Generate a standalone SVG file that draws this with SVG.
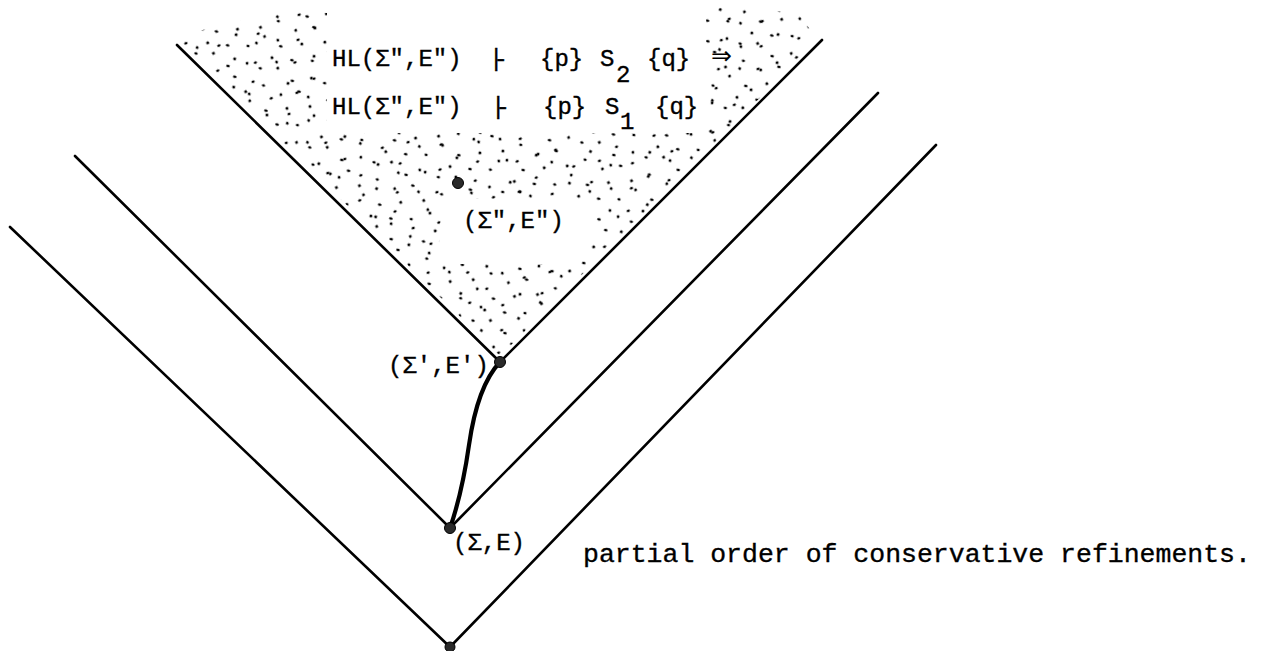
<svg xmlns="http://www.w3.org/2000/svg" width="1266" height="651" viewBox="0 0 1266 651">
<style>
.t{font-family:"Liberation Mono","DejaVu Sans Mono",monospace;font-size:24px;fill:#000;stroke:#000;stroke-width:0.35}
.b{font-family:"Liberation Mono","DejaVu Sans Mono",monospace;font-size:26.5px;fill:#000;stroke:#000;stroke-width:0.35}
.ar{font-family:"DejaVu Sans",sans-serif;font-size:25px;fill:#000}
.ln{stroke:#000;stroke-width:2.6;fill:none;stroke-linecap:round}
.pt{fill:#2a2a2a;stroke:#000;stroke-width:1}
</style>
<defs>
<pattern id="stipA" patternUnits="userSpaceOnUse" width="66" height="66" patternTransform="rotate(13)">
<g fill="#000">
<ellipse cx="5" cy="8" rx="1.7" ry="1.3"/><ellipse cx="22" cy="4" rx="1.5" ry="1.4"/><ellipse cx="39" cy="13" rx="1.8" ry="1.2"/><ellipse cx="57" cy="6" rx="1.4" ry="1.6"/>
<ellipse cx="12" cy="24" rx="1.6" ry="1.3"/><ellipse cx="31" cy="29" rx="1.4" ry="1.6"/><ellipse cx="48" cy="22" rx="1.8" ry="1.2"/><ellipse cx="62" cy="34" rx="1.5" ry="1.5"/>
<ellipse cx="2" cy="42" rx="1.4" ry="1.6"/><ellipse cx="20" cy="48" rx="1.8" ry="1.2"/><ellipse cx="40" cy="41" rx="1.5" ry="1.5"/><ellipse cx="54" cy="55" rx="1.6" ry="1.3"/>
<ellipse cx="14" cy="61" rx="1.5" ry="1.5"/><ellipse cx="34" cy="59" rx="1.8" ry="1.2"/>
</g>
</pattern>
<pattern id="stipB" patternUnits="userSpaceOnUse" width="86" height="86" patternTransform="rotate(-21)">
<g fill="#000">
<ellipse cx="7" cy="14" rx="1.6" ry="1.3"/><ellipse cx="27" cy="5" rx="1.4" ry="1.6"/><ellipse cx="46" cy="17" rx="1.7" ry="1.2"/><ellipse cx="67" cy="9" rx="1.5" ry="1.5"/>
<ellipse cx="81" cy="29" rx="1.4" ry="1.6"/><ellipse cx="16" cy="35" rx="1.7" ry="1.3"/><ellipse cx="36" cy="31" rx="1.5" ry="1.5"/><ellipse cx="57" cy="38" rx="1.6" ry="1.3"/>
<ellipse cx="73" cy="51" rx="1.4" ry="1.6"/><ellipse cx="6" cy="58" rx="1.7" ry="1.2"/><ellipse cx="26" cy="53" rx="1.5" ry="1.5"/><ellipse cx="44" cy="64" rx="1.6" ry="1.3"/>
<ellipse cx="64" cy="71" rx="1.4" ry="1.6"/><ellipse cx="81" cy="78" rx="1.7" ry="1.2"/><ellipse cx="15" cy="79" rx="1.5" ry="1.5"/><ellipse cx="35" cy="81" rx="1.6" ry="1.3"/>
<ellipse cx="52" cy="46" rx="1.4" ry="1.6"/><ellipse cx="72" cy="21" rx="1.7" ry="1.2"/>
</g>
</pattern>
<path id="stipRegion" fill-rule="evenodd" d="M500,356 L181,42 L190,34 L222,24 L258,17 L300,11 L327,13 L327,133 L706,133 L706,8 L760,7 L800,16 L818,40 Z M445,199 L592,199 L594,240 L572,264 L438,264 L440,225 Z"/>
</defs>
<rect width="1266" height="651" fill="#fff"/>
<g id="stipple">
<use href="#stipRegion" fill="url(#stipA)"/>
<use href="#stipRegion" fill="url(#stipB)"/>
</g>
<g id="connectors">
<line class="ln" x1="177" y1="45" x2="500" y2="362"/>
<line class="ln" x1="500" y1="362" x2="822" y2="40"/>
<line class="ln" x1="75" y1="156" x2="450" y2="528"/>
<line class="ln" x1="450" y1="528" x2="878" y2="93"/>
<line class="ln" x1="10" y1="227" x2="450" y2="647"/>
<line class="ln" x1="450" y1="647" x2="936" y2="145"/>
<path d="M500,362 C483,380 474,410 469,445 C464,480 458,505 450,528" stroke="#000" stroke-width="4.2" fill="none" stroke-linecap="round"/>
</g>
<g id="node-sigma2">
<circle class="pt" cx="458" cy="183" r="5.5"/>
<text class="t" x="463" y="228">(Σ",E")</text>
</g>
<g id="node-sigma1">
<circle class="pt" cx="500" cy="362" r="5.5"/>
<text class="t" x="388" y="373">(Σ',E')</text>
</g>
<g id="node-sigma0">
<circle class="pt" cx="450" cy="528" r="5.5"/>
<text class="t" x="453" y="550">(Σ,E)</text>
</g>
<g id="node-bottom">
<circle class="pt" cx="450" cy="647" r="5"/>
</g>
<g id="formula">
<text class="t" x="332" y="66">HL(Σ",E")</text>
<text class="t" x="489" y="66" letter-spacing="-10">|-</text>
<text class="t" x="540" y="66">{p}</text>
<text class="t" x="600" y="66">S</text>
<text class="t" x="616" y="82">2</text>
<text class="t" x="647" y="66">{q}</text>
<text class="ar" x="711" y="64">⇒</text>
<text class="t" x="332" y="114">HL(Σ",E")</text>
<text class="t" x="491" y="114" letter-spacing="-10">|-</text>
<text class="t" x="543" y="114">{p}</text>
<text class="t" x="605" y="114">S</text>
<text class="t" x="620" y="129">1</text>
<text class="t" x="655" y="114">{q}</text>
</g>
<g id="caption">
<text class="b" x="583" y="562">partial order of conservative refinements.</text>
</g>
</svg>
